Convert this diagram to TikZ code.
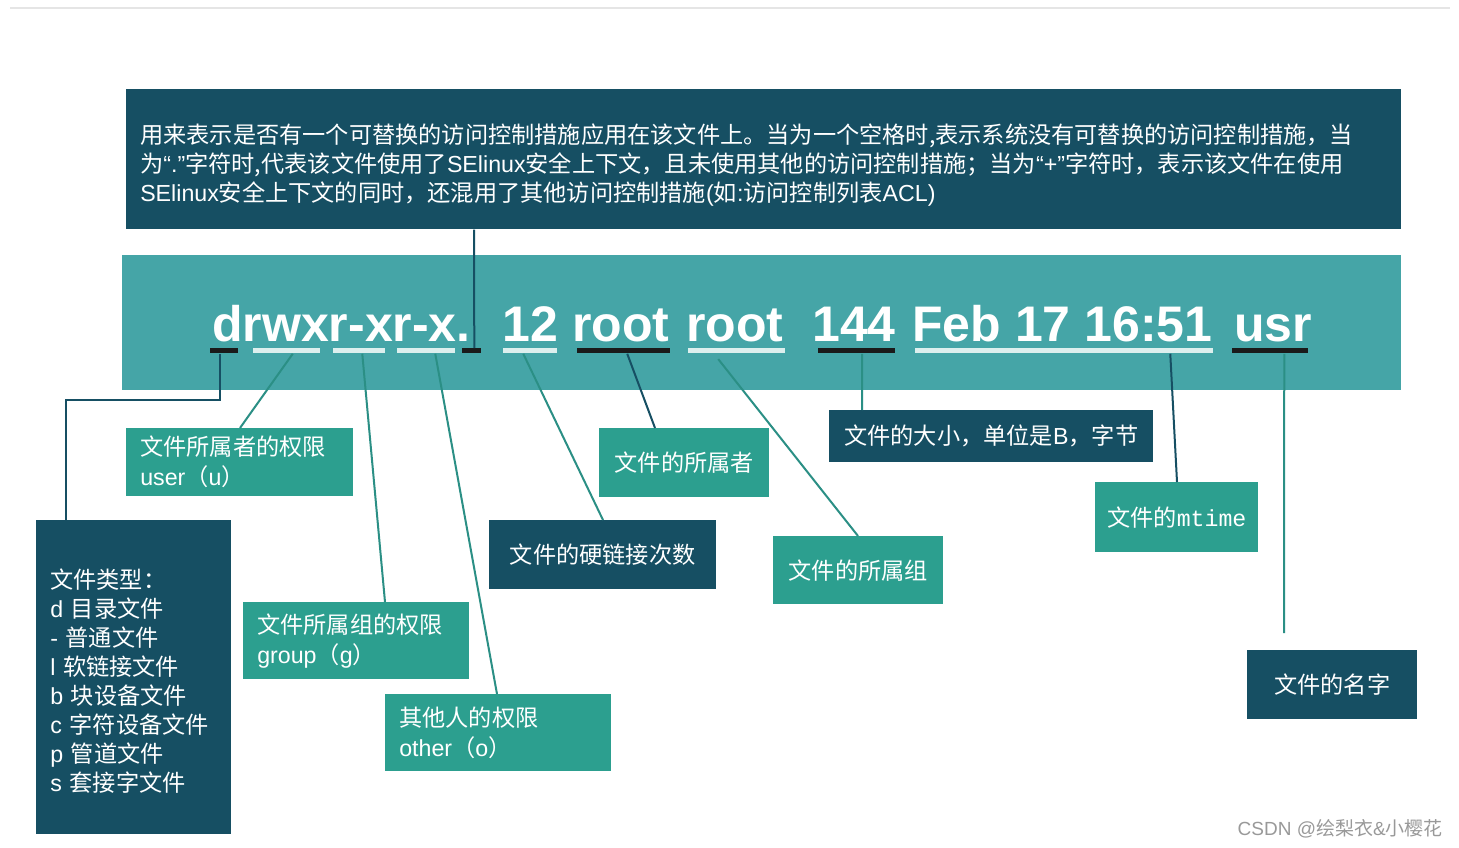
\documentclass[tikz,border=0pt]{standalone}
\usepackage{fontspec}
\setmainfont{Liberation Sans}
\newfontfamily\cjk{Noto Sans CJK SC}
\newfontfamily\monof{Liberation Mono}
\newcommand\latn[1]{{\rmfamily #1}}
\definecolor{darkc}{HTML}{164F63}
\definecolor{tealc}{HTML}{2C9F8F}
\definecolor{bannerc}{HTML}{45A5A7}
\definecolor{lineteal}{HTML}{2B8F85}
\definecolor{lightul}{HTML}{DDEFEE}
\definecolor{blackul}{HTML}{1A1A1A}
\begin{document}
\begin{tikzpicture}[x=0.75pt,y=-0.75pt,
  box/.style={rectangle, inner sep=0pt, anchor=north west, text=white,
    font=\cjk\fontsize{17.4pt}{22.5pt}\selectfont},
  darkbox/.style={box, fill=darkc},
  tealbox/.style={box, fill=tealc},
  leftbox/.style={align=left, inner xsep=10.5pt},
  bigtxt/.style={anchor=base west, inner sep=0pt, text=white,
    font=\fontsize{37.5pt}{40pt}\selectfont\bfseries},
  ul/.style={rectangle, inner sep=0pt, anchor=west, minimum height=3.75pt},
  lightline/.style={ul, fill=lightul},
  blackline/.style={ul, fill=blackul},
  tline/.style={draw=lineteal, line width=1.5pt},
  dline/.style={draw=darkc, line width=1.5pt}]
\useasboundingbox (0,0) rectangle (1459,848);
\fill[white] (0,0) rectangle (1459,848);
\draw[black!10, line width=1pt] (10,8) -- (1450,8);

% top explanation box
\node[darkbox, leftbox, minimum width=956.25pt, minimum height=105pt, text width=935.25pt,
  font=\cjk\fontsize{17.4pt}{21.75pt}\selectfont] (top) at (126,89)
  {\rule{0pt}{23pt}用来表示是否有一个可替换的访问控制措施应用在该文件上。当为一个空格时,表示系统没有可替换的访问控制措施，当\\
   为\latn{“.”}字符时,代表该文件使用了\latn{SElinux}安全上下文，且未使用其他的访问控制措施；当为\latn{“+”}字符时，表示该文件在使用\\
   \latn{SElinux}安全上下文的同时，还混用了其他访问控制措施\latn{(}如\latn{:}访问控制列表\latn{ACL)}};

% banner
\node[box, fill=bannerc, minimum width=959.25pt, minimum height=101.25pt] (banner) at (122,255) {};
\node[bigtxt] (t1) at (212,342) {drwxr-xr-x.};
\node[bigtxt] (t2) at (502,342) {12};
\node[bigtxt] (t3) at (572,342) {root};
\node[bigtxt] (t4) at (686,342) {root};
\node[bigtxt] (t5) at (812,342) {144};
\node[bigtxt] (t6) at (912,342) {Feb 17 16:51};
\node[bigtxt] (t7) at (1234,342) {usr};

% underlines
\node[blackline, minimum width=21pt] (u1) at (210,351) {};
\node[lightline, minimum width=50.25pt] (u2) at (253,351) {};
\node[lightline, minimum width=39pt] (u3) at (333,351) {};
\node[lightline, minimum width=43.5pt] (u4) at (397,351) {};
\node[blackline, minimum width=14.25pt] (u5) at (462,351) {};
\node[lightline, minimum width=40.5pt] (u6) at (503,351) {};
\node[blackline, minimum width=69.75pt] (u7) at (577,351) {};
\node[lightline, minimum width=72.75pt] (u8) at (688,351) {};
\node[blackline, minimum width=57.75pt] (u9) at (818,351) {};
\node[lightline, minimum width=223.5pt] (u10) at (915,351) {};
\node[blackline, minimum width=57pt] (u11) at (1232,351) {};

% label boxes
\node[tealbox, leftbox, minimum width=170.25pt, minimum height=51pt, text width=149.25pt] (user) at (126,428)
  {文件所属者的权限\\\latn{user}（\latn{u}）};
\node[darkbox, leftbox, minimum width=146.25pt, minimum height=235.5pt, text width=125.25pt,
  font=\cjk\fontsize{17.4pt}{21.75pt}\selectfont] (ftype) at (36,520)
  {\rule{0pt}{20.5pt}文件类型：\\\latn{d} 目录文件\\\latn{-} 普通文件\\\latn{l} 软链接文件\\\latn{b} 块设备文件\\\latn{c} 字符设备文件\\\latn{p} 管道文件\\\latn{s} 套接字文件};
\node[tealbox, leftbox, minimum width=169.5pt, minimum height=57.75pt, text width=148.5pt] (grp) at (243,602)
  {文件所属组的权限\\\latn{group}（\latn{g}）};
\node[tealbox, leftbox, minimum width=169.5pt, minimum height=57.75pt, text width=148.5pt] (oth) at (385,694)
  {其他人的权限\\\latn{other}（\latn{o}）};
\node[darkbox, minimum width=170.25pt, minimum height=51.75pt] (hard) at (489,520) {文件的硬链接次数};
\node[tealbox, minimum width=127.5pt, minimum height=51.75pt] (owner) at (599,428) {文件的所属者};
\node[tealbox, minimum width=127.5pt, minimum height=51pt] (grpown) at (773,536) {文件的所属组};
\node[darkbox, minimum width=243pt, minimum height=39pt] (size) at (829,410) {文件的大小，单位是\latn{B}，字节};
\node[tealbox, minimum width=122.25pt, minimum height=52.5pt] (mtime) at (1095,482) {文件的{\monof mtime}};
\node[darkbox, minimum width=127.5pt, minimum height=51.75pt] (name) at (1247,650) {文件的名字};

% connectors
\coordinate (bend) at (66,400);
\coordinate (nameend) at (1284,633);
\draw[dline] ([xshift=-3pt]u1.south) |- (bend) -- ([xshift=22.5pt]ftype.north west);
\draw[tline] ([xshift=4.5pt]u2.south) -- ([xshift=85.5pt]user.north west);
\draw[tline] ([xshift=2.25pt]u3.south) -- ([xshift=106.5pt]grp.north west);
\draw[tline] ([xshift=6.75pt]u4.south) -- ([xshift=84pt]oth.north west);
\draw[dline] ([xshift=1.9pt]u5.north) -- ([xshift=261pt]top.south west);
\draw[tline] ([xshift=-5.25pt]u6.south) -- ([xshift=85.5pt]hard.north west);
\draw[dline] ([xshift=2.6pt]u7.south) -- ([xshift=42pt]owner.north west);
\draw[tline] ([xshift=-13.9pt,yshift=-4pt]u8.south) -- ([xshift=63.75pt]grpown.north west);
\draw[tline] ([xshift=4.1pt]u9.south) -- ([xshift=24.75pt]size.north west);
\draw[dline] ([xshift=79.5pt]u10.south) -- ([xshift=61.5pt]mtime.north west);
\draw[tline] ([xshift=10.5pt]u11.south) -- (nameend);

% watermark
\node[anchor=east, inner sep=0pt, text=black!40, font=\cjk\fontsize{14.25pt}{16pt}\selectfont] (wm) at (1443,829)
  {\latn{CSDN @}绘梨衣\latn{\&}小樱花};
\end{tikzpicture}
\end{document}
